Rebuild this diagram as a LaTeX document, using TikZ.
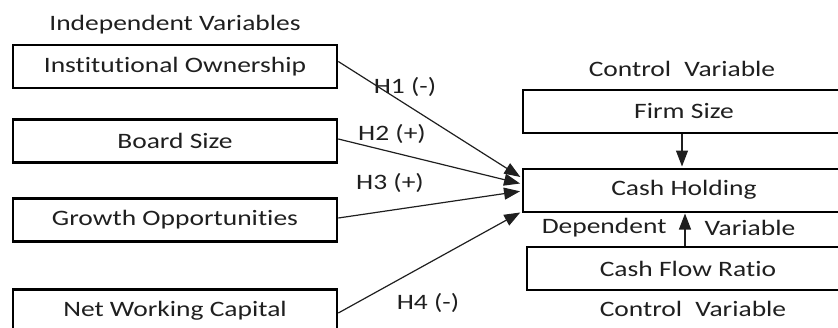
\documentclass[tikz,border=0pt]{standalone}
\usepackage{fontspec}
\setmainfont{Carlito}[FakeStretch=1.25,Ligatures=NoCommon,RawFeature=-liga]
\usepackage{tikz}
\usetikzlibrary{arrows.meta,calc}
\definecolor{ink}{gray}{0.12}

\begin{document}
\begin{tikzpicture}[x=1pt,y=-1pt,
        every node/.style={font=\fontsize{22}{26}\selectfont,text=ink},
        varbox/.style={draw=black,line width=2.6pt,minimum width=324pt,minimum height=43pt,inner sep=0pt},
        ctrlbox/.style={draw=black,line width=2pt,minimum width=322pt,minimum height=43pt,inner sep=0pt},
        hyp/.style={draw=ink,line width=1.2pt,shorten >=2pt,-{Stealth[length=16pt,width=12pt,inset=0pt]}}]
        \clip (0,0) rectangle (838,327);

        \node (indep) at (175,25) {Independent Variables};
        \node[varbox] (io) at (175,66.5) {Institutional Ownership};
        \node[varbox] (bs) at (175,141) {Board Size};
        \node[varbox] (go) at (175,220) {Growth Opportunities};
        \node[varbox] (nwc) at (175,311) {Net Working Capital};

        \node (ctrltop) at (682,69) {Control\hspace{0.6em}Variable};
        \node[ctrlbox] (fs) at (684,111.5) {Firm Size};
        \node[ctrlbox] (ch) at (684,190) {Cash Holding};
        \node[ctrlbox] (cfr) at (688,268.5) {Cash Flow Ratio};
        \node (ctrlbot) at (693,309) {Control\hspace{0.6em}Variable};
        \node[anchor=east] (dep) at (670,228) {Dependent};
        \node[anchor=west] (var) at (701,228) {Variable};

        % hypotheses
        \draw[hyp] ([yshift=5pt]io.east) to ([yshift=12pt]ch.west);
        \draw[hyp] ([yshift=2pt]bs.east) to ([yshift=6pt]ch.west);
        \draw[hyp] ([yshift=2pt]go.east) to ([yshift=-1pt]ch.west);
        \draw[hyp] ([yshift=-2pt]nwc.east) to ([yshift=1pt]ch.south west);
        \node (h1) at (405,87) {H1 (-)};
        \node (h2) at (392,134) {H2 (+)};
        \node (h3) at (390,183) {H3 (+)};
        \node (h4) at (428,303) {H4 (-)};

        % control variables
        \draw[hyp,shorten >=1pt] ([xshift=-2pt]fs.south) to ([xshift=-2pt]ch.north);
        \draw[hyp,shorten >=1pt] ([xshift=-3pt]cfr.north) to ([xshift=1pt]ch.south);
\end{tikzpicture}
\end{document}
